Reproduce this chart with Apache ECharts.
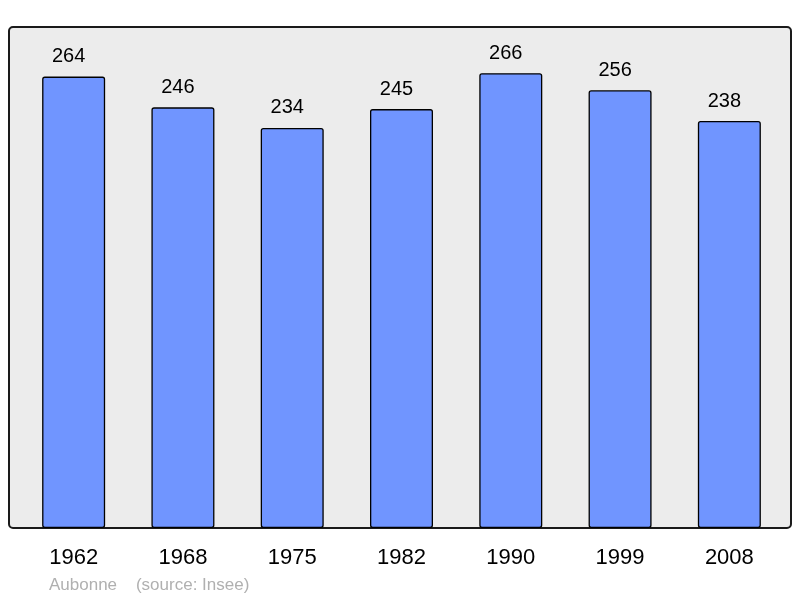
<!DOCTYPE html>
<html>
<head>
    <meta charset="utf-8">
    <script src="https://cdn.jsdelivr.net/npm/echarts@6/dist/echarts.min.js"></script>
</head>
<body style="margin:0;">
    <div id="main" style="width: 800px;height:598px;"></div>

<script type="text/javascript">
    var years = ['1962', '1968', '1975', '1982', '1990', '1999', '2008'];
    var population = [264, 246, 234, 245, 266, 256, 238];

    var myChart = echarts.init(document.getElementById('main'));

    var option = {
        backgroundColor: '#ffffff',
        animation: false,
        textStyle: {
            fontFamily: 'Liberation Sans'
        },
        grid: {
            left: 19,
            right: 16,
            top: 27,
            bottom: 70
        },
        graphic: [
            {
                type: 'rect',
                z: -10,
                shape: { x: 9, y: 27, width: 782, height: 501, r: 4 },
                style: { fill: '#ececec', stroke: '#1a1a1a', lineWidth: 2 }
            },
            {
                type: 'text',
                left: 49,
                top: 577,
                style: {
                    text: 'Aubonne    (source: Insee)',
                    fill: '#b0b0b0',
                    font: '17px "Liberation Sans"'
                }
            }
        ],
        xAxis: {
            type: 'category',
            data: years,
            axisLine: { show: false },
            axisTick: { show: false },
            axisLabel: {
                color: '#000',
                fontSize: 22,
                margin: 19
            }
        },
        yAxis: {
            type: 'value',
            min: 0,
            max: 293,
            show: false,
            splitLine: { show: false }
        },
        series: [
            {
                type: 'bar',
                data: population,
                barWidth: 63,
                itemStyle: {
                    color: '#7095ff',
                    borderColor: '#000',
                    borderWidth: 1.3,
                    borderRadius: 2
                },
                label: {
                    show: true,
                    position: 'top',
                    distance: 10,
                    offset: [-5, 0],
                    color: '#000',
                    fontSize: 20
                }
            }
        ]
    };

    myChart.setOption(option);
</script>
</body>
</html>
